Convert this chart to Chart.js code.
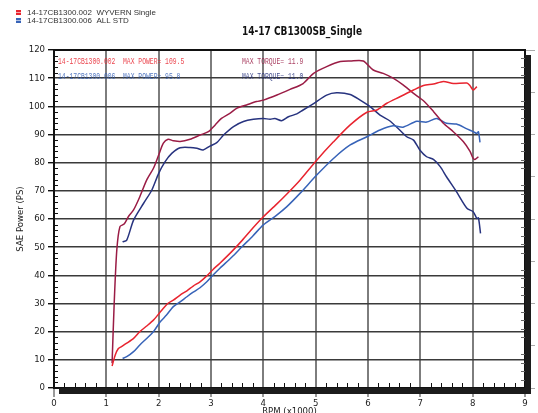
<!DOCTYPE html>
<html><head><meta charset="utf-8">
<script src="https://cdn.jsdelivr.net/npm/chart.js@4.4.1/dist/chart.umd.min.js"></script>
<style>html,body{margin:0;padding:0;background:#fff;}canvas{display:block;}</style>
</head><body>
<canvas id="c" width="538" height="413"></canvas>
<script>
// ---- text ----
const chartTitle = '14-17 CB1300SB_Single';
const legendLabels = ['14-17CB1300.002  WYVERN Single', '14-17CB1300.006  ALL STD'];
const runIds = ['14-17CB1300.002', '14-17CB1300.006'];
const maxPower = ['109.5', '95.8'];
const maxTorque = ['11.9', '11.0'];
const xAxisTitle = 'RPM (x1000)';
const yAxisTitle = 'SAE Power (PS)';

// ---- axis ranges ----
const xRange = [0, 9];
const yRange = [0, 120];

// ---- WYVERN Single : power (PS) ----
const wyPowerRpm = [1.11,1.17,1.23,1.29,1.39,1.52,1.64,1.77,1.90,2.00,2.09,2.18,2.28,2.41,2.54,2.66,2.79,2.92,3.04,3.17,3.40,3.60,3.80,4.00,4.25,4.45,4.70,5.02,5.34,5.66,5.98,6.17,6.36,6.61,6.87,7.06,7.25,7.44,7.63,7.89,7.95,8.01,8.08];
const wyPower    = [7.8,11.7,14.0,14.7,15.9,17.6,20.0,22.0,24.1,26.3,28.3,30.1,31.2,33.0,34.5,36.2,37.7,39.8,42.1,44.3,48.5,52.5,56.8,60.8,65.2,68.9,73.8,80.9,87.4,93.4,97.9,98.7,101.1,103.4,105.8,107.4,107.9,108.8,108.1,108.3,107.3,105.8,107.0];

// ---- WYVERN Single : torque (plotted on right axis) ----
const wyTorqueRpm = [1.11,1.15,1.20,1.26,1.34,1.42,1.52,1.64,1.77,1.90,2.00,2.09,2.18,2.28,2.41,2.60,2.79,2.95,3.08,3.20,3.36,3.49,3.68,3.87,4.00,4.26,4.51,4.76,4.96,5.21,5.47,5.66,5.91,6.10,6.29,6.48,6.67,6.87,7.06,7.25,7.44,7.63,7.82,7.95,8.01,8.05,8.11];
const wyTorque    = [8.8,30.0,49.0,57.3,58.2,60.8,63.2,67.9,73.8,78.0,82.7,86.9,88.3,87.8,87.5,88.3,89.8,91.0,93.4,95.7,97.5,99.3,100.5,101.7,102.2,104.0,106.0,108.1,111.7,114.1,115.9,116.1,116.1,112.9,111.7,110.0,107.6,104.6,102.0,98.2,94.0,91.0,87.5,84.0,81.5,81.2,82.1];

// ---- ALL STD : power (PS) ----
const stdPowerRpm = [1.31,1.39,1.52,1.64,1.77,1.90,2.03,2.15,2.28,2.41,2.54,2.66,2.79,2.92,3.04,3.17,3.40,3.60,3.80,4.00,4.25,4.45,4.70,5.02,5.34,5.66,5.98,6.23,6.48,6.67,6.93,7.12,7.31,7.50,7.69,7.89,8.01,8.08,8.11,8.14];
const stdPower    = [10.5,11.1,12.9,15.3,17.6,20.0,23.5,25.9,28.9,30.6,32.4,34.0,35.6,37.7,40.1,42.5,46.5,50.3,54.0,57.9,61.3,64.4,69.1,75.6,81.5,86.3,89.2,91.6,93.1,92.6,94.7,94.4,95.7,94.0,93.7,92.0,91.0,90.4,91.0,87.2];

// ---- ALL STD : torque (plotted on right axis) ----
const stdTorqueRpm = [1.31,1.39,1.52,1.71,1.87,2.00,2.12,2.25,2.41,2.60,2.73,2.85,2.98,3.11,3.24,3.43,3.62,3.81,4.00,4.13,4.22,4.35,4.48,4.64,4.76,4.96,5.21,5.40,5.66,5.85,6.04,6.23,6.42,6.61,6.74,6.87,6.99,7.12,7.25,7.38,7.50,7.69,7.89,8.01,8.08,8.11,8.15];
const stdTorque    = [51.9,52.5,59.6,65.5,70.3,76.2,80.3,83.3,85.3,85.4,85.1,84.5,85.9,87.1,89.8,92.8,94.6,95.4,95.7,95.4,95.7,94.9,96.3,97.3,98.7,101.0,104.0,104.8,104.2,102.2,99.9,96.9,94.8,91.5,89.2,88.0,84.5,82.1,81.2,78.6,75.0,69.7,63.8,62.6,60.2,60.4,54.9];

const colWyPower = '#e8242f';
const colWyTorque = '#9a1c45';
const colStdPower = '#3763b8';
const colStdTorque = '#27337f';

function pts(xs, ys){ return xs.map((x,i)=>({x:x, y:ys[i]})); }

const tickFont = {family:"'Liberation Sans Narrow','Arial Narrow','DejaVu Sans Condensed',Arial,sans-serif", size:9.5};

const extras = {
  id:'extras',
  afterDraw(chart){
    const ctx = chart.ctx;
    const a = chart.chartArea;
    const xs = chart.scales.x, ys = chart.scales.y, y2 = chart.scales.y2;
    ctx.save();
    // minor ticks
    ctx.strokeStyle = '#111'; ctx.lineWidth = 1;
    ctx.beginPath();
    for (let v = 2; v < yRange[1]; v += 2) {
      if (v % 10 === 0) continue;
      const p = Math.round(ys.getPixelForValue(v)) + 0.5;
      ctx.moveTo(a.left, p); ctx.lineTo(a.left + 4, p);
    }
    for (let k = 1; k < xRange[1]*5; k++) {
      if (k % 5 === 0) continue;
      const p = Math.round(xs.getPixelForValue(k/5)) + 0.5;
      ctx.moveTo(p, a.bottom); ctx.lineTo(p, a.bottom - 5);
    }
    ctx.stroke();
    ctx.strokeStyle = '#666';
    ctx.beginPath();
    for (let v = 3; v < 120; v += 3) {
      if (v % 15 === 0) continue;
      const p = Math.round(y2.getPixelForValue(v)) + 0.5;
      ctx.moveTo(a.right - 4, p); ctx.lineTo(a.right, p);
    }
    ctx.stroke();
    // top frame line
    ctx.fillStyle = '#111';
    ctx.fillRect(a.left, a.top - 1, a.right - a.left, 2);
    // shadow bars
    ctx.fillStyle = '#1c1c1c';
    ctx.fillRect(a.right, a.top + 5, 6, a.bottom - a.top + 1);
    ctx.fillRect(a.left + 5, a.bottom, a.right - a.left + 1, 6);

    // title
    ctx.fillStyle = '#111';
    ctx.font = "bold 13px 'Liberation Sans Narrow','DejaVu Sans Condensed',Arial,sans-serif";
    ctx.textBaseline = 'middle';
    ctx.textAlign = 'left';
    let w = ctx.measureText(chartTitle).width;
    ctx.save();
    ctx.translate(242, 32);
    ctx.scale(120 / w, 1);
    ctx.fillText(chartTitle, 0, 0);
    ctx.restore();

    // legend
    const legCols = [colWyPower, colStdPower];
    ctx.font = "8px 'Liberation Sans',Arial,sans-serif";
    legendLabels.forEach((t, i) => {
      const cy = 12.5 + i * 8;
      ctx.fillStyle = legCols[i];
      ctx.fillRect(16, cy - 2.5, 5, 5);
      ctx.fillStyle = 'rgba(255,255,255,0.6)';
      ctx.fillRect(16, cy - 0.5, 5, 1);
      ctx.fillStyle = '#333';
      ctx.fillText(t, 27, cy + 0.5);
    });

    // annotations
    ctx.font = "8.5px 'Liberation Mono','DejaVu Sans Mono',monospace";
    const annCols = [[colWyPower, colWyTorque], [colStdPower, colStdTorque]];
    runIds.forEach((id, i) => {
      const cy = 62 + i * 15;
      const t1 = id + '  MAX POWER= ' + maxPower[i];
      const t2 = 'MAX TORQUE= ' + maxTorque[i];
      ctx.save();
      ctx.translate(58, cy); ctx.scale(0.75, 1);
      ctx.fillStyle = annCols[i][0]; ctx.globalAlpha = 0.85;
      ctx.fillText(t1, 0, 0);
      ctx.restore();
      ctx.save();
      ctx.translate(242, cy); ctx.scale(0.75, 1);
      ctx.fillStyle = annCols[i][1]; ctx.globalAlpha = 0.85;
      ctx.fillText(t2, 0, 0);
      ctx.restore();
    });
    ctx.restore();
  }
};

new Chart(document.getElementById('c'), {
  type: 'line',
  data: {
    datasets: [
      {label: legendLabels[0] + ' power', data: pts(wyPowerRpm, wyPower), borderColor: colWyPower, yAxisID: 'y'},
      {label: legendLabels[0] + ' torque', data: pts(wyTorqueRpm, wyTorque), borderColor: colWyTorque, yAxisID: 'y2'},
      {label: legendLabels[1] + ' power', data: pts(stdPowerRpm, stdPower), borderColor: colStdPower, yAxisID: 'y'},
      {label: legendLabels[1] + ' torque', data: pts(stdTorqueRpm, stdTorque), borderColor: colStdTorque, yAxisID: 'y2'}
    ]
  },
  options: {
    responsive: false,
    animation: false,
    devicePixelRatio: 1,
    layout: {padding: {top: 50, left: 0, right: 0, bottom: 0}},
    elements: {line: {borderWidth: 1.5, tension: 0.25, fill: false}, point: {radius: 0}},
    plugins: {legend: {display: false}, title: {display: false}, tooltip: {enabled: false}},
    scales: {
      x: {
        type: 'linear', min: xRange[0], max: xRange[1],
        ticks: {stepSize: 1, font: tickFont, color: '#222', padding: 1, maxRotation: 0},
        grid: {color: '#7d7d7d', lineWidth: 2, tickLength: 9, tickColor: '#9a9a9a'},
        border: {color: '#111', width: 2},
        title: {display: true, text: xAxisTitle, font: tickFont, color: '#222', padding: {top: 0, bottom: -4}},
        afterFit: s => { s.height = 25; }
      },
      y: {
        type: 'linear', position: 'left', min: yRange[0], max: yRange[1],
        ticks: {stepSize: 10, font: tickFont, color: '#222', padding: 3},
        grid: {color: '#3a3a3a', lineWidth: 1.4, tickLength: 6, tickColor: '#111'},
        border: {color: '#111', width: 2},
        title: {display: true, text: yAxisTitle, font: tickFont, color: '#222', padding: {top: 15, bottom: 0}},
        afterFit: s => { s.width = 54; }
      },
      y2: {
        type: 'linear', position: 'right', min: yRange[0], max: yRange[1],
        ticks: {stepSize: 15, display: false},
        grid: {drawOnChartArea: false, tickLength: 10, tickColor: '#aaa'},
        border: {color: '#111', width: 2},
        afterFit: s => { s.width = 13; }
      }
    }
  },
  plugins: [extras]
});
</script>
</body></html>
